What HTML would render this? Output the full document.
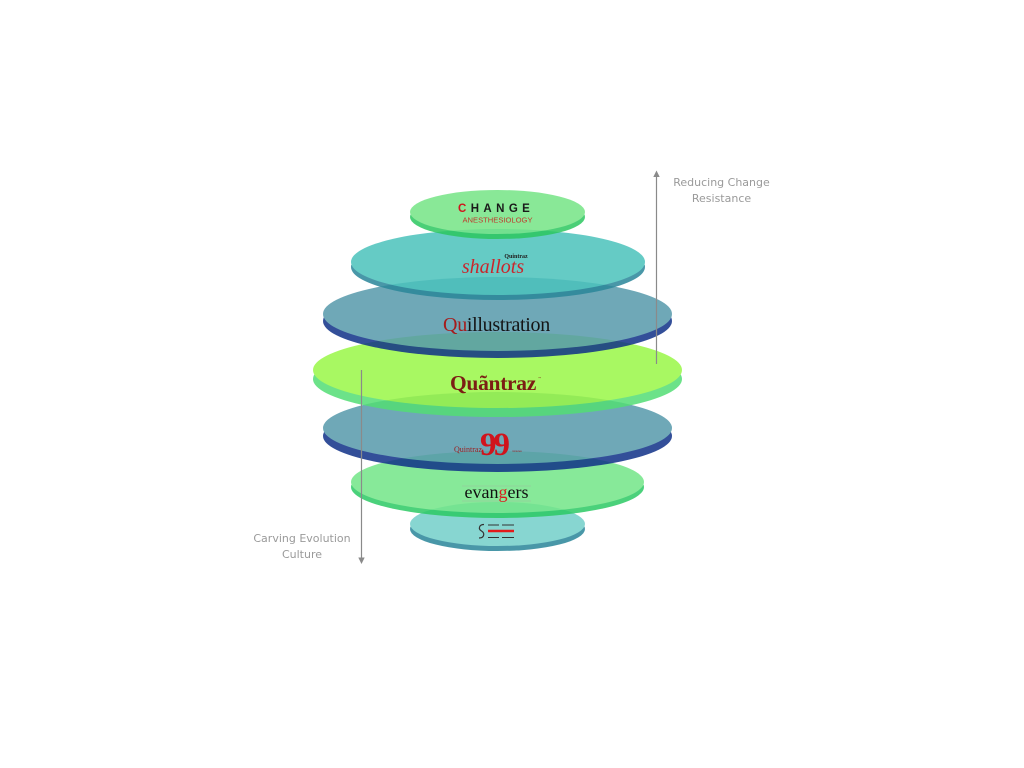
<!DOCTYPE html>
<html><head><meta charset="utf-8"><style>
html,body{margin:0;padding:0;background:#fff;}
svg{display:block;}
</style></head><body>
<svg width="1024" height="768" viewBox="0 0 1024 768" xmlns="http://www.w3.org/2000/svg">
<rect width="1024" height="768" fill="#fff"/>
<!-- disc 7 (bottom) -->
<g opacity="0.85">
  <ellipse cx="497.5" cy="529" rx="87.5" ry="22" fill="rgb(42,134,153)"/>
  <ellipse cx="497.5" cy="524" rx="87.5" ry="22" fill="rgb(115,207,202)"/>
</g>
<!-- disc 6 -->
<g opacity="0.85">
  <ellipse cx="497.5" cy="487" rx="146.5" ry="31" fill="rgb(44,202,100)"/>
  <ellipse cx="497.5" cy="482" rx="146.5" ry="31" fill="rgb(115,230,136)"/>
</g>
<!-- disc 5 -->
<g opacity="0.85">
  <ellipse cx="497.5" cy="436" rx="174.5" ry="36" fill="rgb(16,49,136)"/>
  <ellipse cx="497.5" cy="428" rx="174.5" ry="36" fill="rgb(86,153,171)"/>
</g>
<!-- disc 4 -->
<g opacity="0.85">
  <ellipse cx="497.5" cy="379" rx="184.5" ry="38" fill="rgb(83,222,117)"/>
  <ellipse cx="497.5" cy="370" rx="184.5" ry="38" fill="rgb(154,247,71)"/>
</g>
<!-- disc 3 -->
<g opacity="0.85">
  <ellipse cx="497.5" cy="321" rx="174.5" ry="37" fill="rgb(16,49,136)"/>
  <ellipse cx="497.5" cy="314" rx="174.5" ry="37" fill="rgb(86,153,171)"/>
</g>
<!-- disc 2 -->
<g opacity="0.85">
  <ellipse cx="498" cy="267" rx="147" ry="33" fill="rgb(42,134,153)"/>
  <ellipse cx="498" cy="262" rx="147" ry="33" fill="rgb(75,194,188)"/>
</g>
<!-- disc 1 -->
<g opacity="0.85">
  <ellipse cx="497.5" cy="217" rx="87.5" ry="22" fill="rgb(44,199,96)"/>
  <ellipse cx="497.5" cy="212" rx="87.5" ry="22" fill="rgb(117,228,134)"/>
</g>

<!-- logos -->
<text x="458" y="212" font-family="Liberation Sans, sans-serif" font-weight="bold" font-size="11.5" letter-spacing="4.4" fill="#1a1a1a"><tspan fill="#d0161c">C</tspan>HANGE</text>
<text x="497.5" y="222.5" text-anchor="middle" font-family="Liberation Sans, sans-serif" font-size="7.6" fill="#c0392b">ANESTHESIOLOGY</text>

<text x="516" y="258" text-anchor="middle" font-family="Liberation Serif, serif" font-weight="bold" font-size="6" fill="#222">Quintraz</text>
<text x="493" y="273" text-anchor="middle" font-family="Liberation Serif, serif" font-style="italic" font-size="20" fill="#c9262c">shallots</text>

<text x="496.5" y="331" text-anchor="middle" font-family="Liberation Serif, serif" font-size="20" fill="#141414" letter-spacing="-0.3"><tspan fill="#a51c1c">Qu</tspan>illustration</text>

<text x="493" y="390" text-anchor="middle" font-family="Liberation Serif, serif" font-weight="bold" font-size="21.5" fill="#7b1e14" letter-spacing="-0.3">Quãntraz</text>
<text x="538" y="379" font-family="Liberation Sans, sans-serif" font-size="3" fill="#7b1e14">™</text>

<text x="454" y="452" font-family="Liberation Serif, serif" font-size="8" fill="#9a1c1c">Quintraz</text>
<text x="480" y="455" font-family="Liberation Serif, serif" font-weight="bold" font-size="33" fill="#d0141c" letter-spacing="-3">99</text>
<text x="512" y="452" font-family="Liberation Sans, sans-serif" font-size="2.8" fill="#9a1c1c">minutes</text>

<line x1="462" y1="486" x2="531" y2="486" stroke="#9bbf9f" stroke-width="0.6"/>
<line x1="462" y1="501" x2="531" y2="501" stroke="#9bbf9f" stroke-width="0.6"/>
<text x="496.5" y="498" text-anchor="middle" font-family="Liberation Serif, serif" font-size="18" fill="#111">evan<tspan fill="#d81e1e">g</tspan>ers</text>

<path d="M484 524.5 C479 524.5 478 529 481.5 531 C485 533 484.5 538 479 538" fill="none" stroke="#333" stroke-width="1.2"/>
<line x1="488" y1="525" x2="499" y2="525" stroke="#333" stroke-width="1"/>
<line x1="502" y1="525" x2="514" y2="525" stroke="#333" stroke-width="1"/>
<line x1="488" y1="531" x2="514" y2="531" stroke="#e31b1b" stroke-width="2.4"/>
<line x1="488" y1="537.5" x2="499" y2="537.5" stroke="#333" stroke-width="1"/>
<line x1="502" y1="537.5" x2="514" y2="537.5" stroke="#333" stroke-width="1"/>

<!-- arrows -->
<line x1="656.5" y1="364" x2="656.5" y2="176" stroke="#8a8a8a" stroke-width="1.2"/>
<polygon points="656.5,170.5 653.3,177 659.7,177" fill="#8a8a8a"/>
<line x1="361.5" y1="370" x2="361.5" y2="558" stroke="#8a8a8a" stroke-width="1.2"/>
<polygon points="361.5,564 358.3,557.5 364.7,557.5" fill="#8a8a8a"/>

<text x="721.5" y="186" text-anchor="middle" font-family="DejaVu Sans, Liberation Sans, sans-serif" font-size="11" fill="#9a9a9a">Reducing Change</text>
<text x="721.5" y="202" text-anchor="middle" font-family="DejaVu Sans, Liberation Sans, sans-serif" font-size="11" fill="#9a9a9a">Resistance</text>
<text x="302" y="542" text-anchor="middle" font-family="DejaVu Sans, Liberation Sans, sans-serif" font-size="11" fill="#9a9a9a">Carving Evolution</text>
<text x="302" y="558" text-anchor="middle" font-family="DejaVu Sans, Liberation Sans, sans-serif" font-size="11" fill="#9a9a9a">Culture</text>
</svg>
</body></html>
